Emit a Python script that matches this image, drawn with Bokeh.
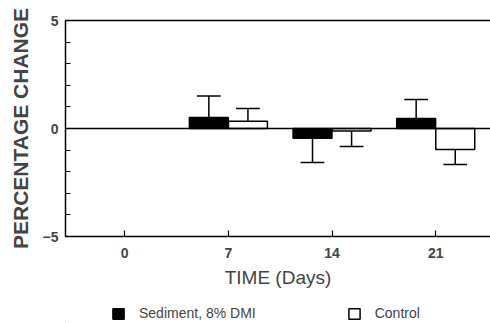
from bokeh.plotting import figure
from bokeh.layouts import column
from bokeh.models import Span, FixedTicker, LinearAxis, Legend, LegendItem, Range1d
from bokeh.embed import file_html
from bokeh.resources import INLINE

# ---- data ----
days = [7, 14, 21]
sediment = [0.51, -0.45, 0.46]
sediment_err = [1.50, -1.57, 1.34]
control = [0.34, -0.12, -0.97]
control_err = [0.93, -0.83, -1.67]
x_ticks = [0, 7, 14, 21]
y_ticks = [-5, 0, 5]
y_minor = [-5, -4, -3, -2, -1, 0, 1, 2, 3, 4, 5]
series_names = ["Sediment, 8% DMI", "Control"]

# ---- geometry ----
offset = 1.32
bar_w = 2.63
cap = 0.8

sed_x = [d - offset for d in days]
ctl_x = [d + offset for d in days]

FONT = "Liberation Sans"

p = figure(width=490, height=300, x_range=Range1d(-4, 24.7), y_range=Range1d(-5, 5),
           output_backend="svg", toolbar_location=None,
           min_border_left=65, min_border_right=0, min_border_top=20, min_border_bottom=64)
p.outline_line_color = None
p.xgrid.visible = False
p.ygrid.visible = False
p.background_fill_color = "white"
p.border_fill_color = "white"

# zero line
p.add_layout(Span(location=0, dimension="width", line_color="black", line_width=1.5))

# bars
p.vbar(x=sed_x, top=sediment, bottom=0, width=bar_w, fill_color="black",
       line_color="black", line_width=1.5)
p.vbar(x=ctl_x, top=control, bottom=0, width=bar_w, fill_color="white",
       line_color="black", line_width=1.5)

# error bars (one-sided)
p.segment(x0=sed_x, y0=sediment, x1=sed_x, y1=sediment_err, line_color="black", line_width=1.5)
p.segment(x0=[x - cap for x in sed_x], y0=sediment_err, x1=[x + cap for x in sed_x],
          y1=sediment_err, line_color="black", line_width=1.5)
p.segment(x0=ctl_x, y0=control, x1=ctl_x, y1=control_err, line_color="black", line_width=1.5)
p.segment(x0=[x - cap for x in ctl_x], y0=control_err, x1=[x + cap for x in ctl_x],
          y1=control_err, line_color="black", line_width=1.5)

# axes
xa = p.xaxis[0]
xa.ticker = FixedTicker(ticks=x_ticks, minor_ticks=[])
xa.axis_line_width = 1.5
xa.major_tick_in = 6
xa.major_tick_out = 0
xa.major_tick_line_width = 1.2
xa.major_label_text_font = FONT
xa.major_label_text_font_style = "bold"
xa.major_label_text_font_size = "14px"
xa.major_label_standoff = 11
xa.axis_label = "TIME (Days)"
xa.axis_label_text_font = FONT
xa.axis_label_text_font_style = "normal"
xa.axis_label_text_font_size = "19px"
xa.axis_label_standoff = 6

ya = p.yaxis[0]
ya.ticker = FixedTicker(ticks=y_ticks, minor_ticks=y_minor)
ya.axis_line_width = 1.5
ya.major_tick_in = 5
ya.major_tick_out = 0
ya.minor_tick_in = 5
ya.minor_tick_out = 0
ya.major_tick_line_width = 1.2
ya.minor_tick_line_width = 1.2
ya.major_label_text_font = FONT
ya.major_label_text_font_style = "bold"
ya.major_label_text_font_size = "14px"
ya.major_label_standoff = 7
ya.axis_label = "PERCENTAGE CHANGE"
ya.axis_label_text_font = FONT
ya.axis_label_text_font_style = "bold"
ya.axis_label_text_font_size = "21px"
ya.axis_label_standoff = 8

top = LinearAxis(ticker=FixedTicker(ticks=[]), major_label_text_font_size="0px",
                 major_tick_line_color=None, minor_tick_line_color=None,
                 axis_line_width=1.5)
p.add_layout(top, "above")

# ---- legend strip (its sample renderers sit outside its visible range) ----
lg = figure(width=490, height=23, x_range=Range1d(100, 101), y_range=Range1d(100, 101),
            x_axis_location=None, y_axis_location=None,
            output_backend="svg", toolbar_location=None,
            min_border_left=0, min_border_right=0, min_border_top=0, min_border_bottom=0)
lg.xgrid.visible = False
lg.ygrid.visible = False
lg.outline_line_color = None
lg.background_fill_color = "white"
lg.border_fill_color = "white"
d1 = lg.vbar(x=sed_x[:1], top=sediment[:1], width=1, fill_color="black",
             line_color="black", line_width=1.5)
d2 = lg.vbar(x=ctl_x[:1], top=control[:1], width=1, fill_color="white",
             line_color="black", line_width=1.5)
legend = Legend(items=[LegendItem(label=series_names[0], renderers=[d1]),
                       LegendItem(label=series_names[1], renderers=[d2])],
                orientation="horizontal", location=(46, 2),
                glyph_width=14, glyph_height=13, label_standoff=14, spacing=91,
                label_text_font=FONT, label_text_font_size="14px",
                border_line_color=None, background_fill_alpha=0,
                padding=2, margin=0)
lg.add_layout(legend, "center")

layout = column(p, lg, spacing=0)
open("out.html", "w").write(file_html(layout, INLINE))
